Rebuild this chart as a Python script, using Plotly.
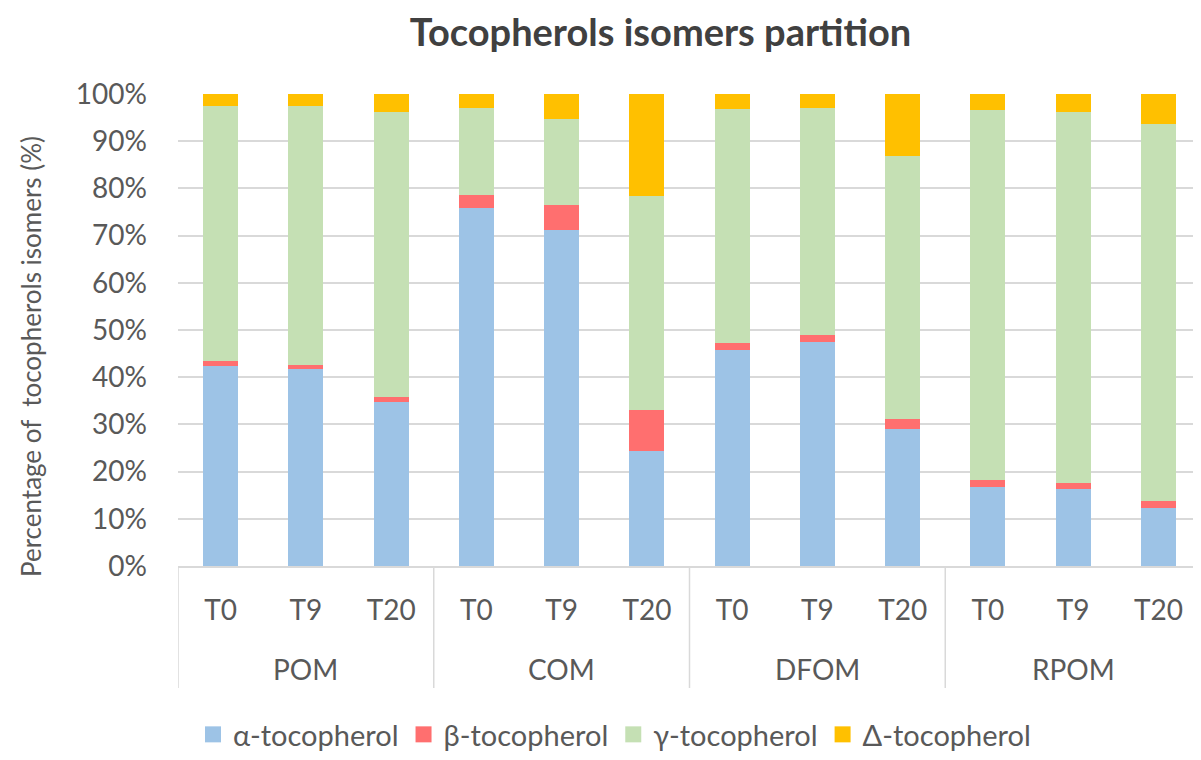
import plotly.graph_objects as go

groups = ["POM", "COM", "DFOM", "RPOM"]
times = ["T0", "T9", "T20"]

alpha = [42.3, 41.7, 34.8, 75.8, 71.1, 24.3, 45.7, 47.4, 29.0, 16.8, 16.3, 12.2]
beta = [1.1, 0.8, 1.1, 2.7, 5.3, 8.7, 1.6, 1.6, 2.1, 1.5, 1.3, 1.6]
gamma = [54.1, 54.9, 60.3, 18.5, 18.4, 45.3, 49.5, 48.0, 55.7, 78.3, 78.6, 79.8]
delta = [2.5, 2.6, 3.8, 3.0, 5.2, 21.7, 3.2, 3.0, 13.2, 3.4, 3.8, 6.4]

series_names = ["α-tocopherol", "β-tocopherol", "γ-tocopherol", "Δ-tocopherol"]
series_colors = ["#9DC3E6", "#FF6F6F", "#C5E0B4", "#FFC000"]
y_ticks = [0, 10, 20, 30, 40, 50, 60, 70, 80, 90, 100]

cats = [f"{g} {t}" for g in groups for t in times]
tick_text = [t for g in groups for t in times]

FONT = "Lato"
GREY = "#595959"

# page is offset by the default 8px body margin; compensate
OFF = 8
W, H = 1201 - OFF, 760 - OFF
PL, PR, PT, PB = 178, 1201, 94, 566  # plot area in page pixels
PW, PH = PR - PL, PB - PT


def py(page_y):
    return (PB - page_y) / PH


def px(page_x):
    return (page_x - PL) / PW


fig = go.Figure()
for name, vals, col in zip(series_names, [alpha, beta, gamma, delta], series_colors):
    fig.add_trace(go.Bar(x=cats, y=[v / 100 for v in vals], name=name,
                         marker=dict(color=col, line=dict(width=0)),
                         showlegend=False))
# legend entries with larger square symbols
for name, col in zip(series_names, series_colors):
    fig.add_trace(go.Scatter(x=[None], y=[None], mode="markers", name=name,
                             marker=dict(symbol="square", size=17, color=col),
                             showlegend=True))

fig.update_layout(
    barmode="stack",
    bargap=0.59,
    width=W, height=H,
    margin=dict(l=PL - OFF, r=0, t=PT - OFF, b=H - (PB - OFF), autoexpand=False),
    paper_bgcolor="white", plot_bgcolor="white",
    font=dict(family=FONT, color=GREY, size=28),
    title=dict(text="<b>Tocopherols isomers partition</b>", x=(660.5 - OFF) / W,
               xanchor="center", y=1 - (33 - OFF) / H, yanchor="middle",
               xref="container", yref="container",
               font=dict(family=FONT, size=38, color="#404040")),
    showlegend=True,
    legend=dict(orientation="h", x=px(193), xanchor="left",
                y=py(760), yanchor="bottom", borderwidth=0,
                font=dict(size=29, color=GREY), traceorder="normal"),
    xaxis=dict(type="category", range=[-0.5, 11.5], tickvals=cats, ticktext=tick_text,
               showline=True, linecolor="#d9d9d9", linewidth=1.5, showgrid=False,
               ticks="", tickfont=dict(size=28, color=GREY), ticklabelstandoff=19,
               fixedrange=True),
    yaxis=dict(range=[0, 1], tickvals=[v / 100 for v in y_ticks],
               ticktext=[f"{v}%" for v in y_ticks],
               showgrid=True, gridcolor="#d9d9d9", gridwidth=1.5,
               zeroline=False, showline=False, ticks="",
               tickfont=dict(size=28, color=GREY), ticklabelstandoff=30),
)

# group labels and dividers
for i, g in enumerate(groups):
    fig.add_annotation(x=cats[i * 3 + 1], y=py(668.5), xref="x", yref="paper",
                       text=g, showarrow=False, yanchor="middle",
                       font=dict(size=28, color=GREY, family=FONT))
for xpos in [-0.5, 2.5, 5.5, 8.5, 11.5]:
    fig.add_shape(type="line", xref="x", yref="paper", x0=xpos, x1=xpos,
                  y0=0, y1=py(688), line=dict(color="#d9d9d9", width=1.5))

fig.add_annotation(text="Percentage of  tocopherols isomers (%)", textangle=-90,
                   xref="paper", yref="paper", x=px(31), y=py(357),
                   xanchor="center", yanchor="middle", showarrow=False,
                   font=dict(size=26, color=GREY, family=FONT))

fig.write_html("out.html")
